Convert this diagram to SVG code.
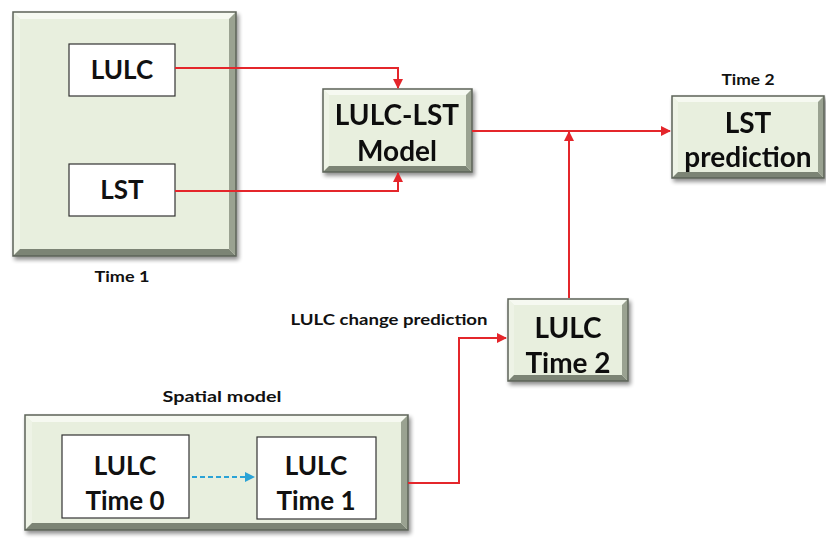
<svg xmlns="http://www.w3.org/2000/svg" width="826" height="540" viewBox="0 0 826 540">
  <defs>
    <style>
      .face { fill: #e8efde; }
      .bt { fill: #f6f9f1; }
      .bl { fill: #eef3e6; }
      .bb { fill: #7c8474; }
      .br { fill: #9aa291; }
      .edge { fill: none; stroke: #5d6358; stroke-width: 1.5; }
      .inner { fill: #ffffff; stroke: #333333; stroke-width: 1.2; }
      .big { font-family: Lato, "Noto Sans", sans-serif; font-weight: bold; font-size: 26px; fill: #111; text-anchor: middle; }
      .mid { font-family: Lato, "Noto Sans", sans-serif; font-weight: bold; font-size: 28px; fill: #111; text-anchor: middle; }
      .lbl { font-family: Lato, "Noto Sans", sans-serif; font-weight: bold; font-size: 15px; fill: #111; text-anchor: middle; }
      .red { fill: none; stroke: #e4262b; stroke-width: 2; }
      .blue { fill: none; stroke: #2aa3d6; stroke-width: 2; stroke-dasharray: 5 3; }
    </style>
    <filter id="shadow" x="-10%" y="-10%" width="125%" height="125%">
      <feGaussianBlur in="SourceAlpha" stdDeviation="2"/>
      <feOffset dx="2" dy="3"/>
      <feComponentTransfer><feFuncA type="linear" slope="0.45"/></feComponentTransfer>
      <feMerge><feMergeNode/><feMergeNode in="SourceGraphic"/></feMerge>
    </filter>
    <marker id="ar" viewBox="0 0 10 10" refX="9" refY="5" markerWidth="5" markerHeight="5" orient="auto">
      <path d="M0 0 L10 5 L0 10 Z" fill="#e4262b"/>
    </marker>
    <marker id="ab" viewBox="0 0 10 10" refX="9" refY="5" markerWidth="5" markerHeight="5" orient="auto">
      <path d="M0 0 L10 5 L0 10 Z" fill="#2aa3d6"/>
    </marker>
  </defs>

  <!-- Time 1 panel -->
  <g id="time1-panel" filter="url(#shadow)">
    <rect class="face" x="13" y="12" width="223" height="244"/>
    <path class="bt" d="M13 12 H236 L229 19 H20 Z"/>
    <path class="bl" d="M13 12 L20 19 V249 L13 256 Z"/>
    <path class="bb" d="M13 256 H236 L229 249 H20 Z"/>
    <path class="br" d="M236 12 V256 L229 249 V19 Z"/>
    <rect class="edge" x="13" y="12" width="223" height="244"/>
  </g>
  <g id="lulc-t1">
    <rect class="inner" x="69" y="44" width="106" height="52"/>
    <text class="big" x="122" y="79">LULC</text>
  </g>
  <g id="lst-t1">
    <rect class="inner" x="69" y="164" width="106" height="52"/>
    <text class="big" x="122" y="199">LST</text>
  </g>
  <text class="lbl" x="122" y="282" textLength="55" lengthAdjust="spacingAndGlyphs">Time 1</text>

  <!-- LULC-LST model -->
  <g id="model" filter="url(#shadow)">
    <rect class="face" x="323" y="89" width="149" height="83"/>
    <path class="bt" d="M323 89 H472 L466 95 H329 Z"/>
    <path class="bl" d="M323 89 L329 95 V166 L323 172 Z"/>
    <path class="bb" d="M323 172 H472 L466 166 H329 Z"/>
    <path class="br" d="M472 89 V172 L466 166 V95 Z"/>
    <rect class="edge" x="323" y="89" width="149" height="83"/>
    <text class="mid" x="397" y="125">LULC-LST</text>
    <text class="mid" x="397" y="161">Model</text>
  </g>

  <!-- LST prediction -->
  <text class="lbl" x="748" y="85" textLength="53" lengthAdjust="spacingAndGlyphs">Time 2</text>
  <g id="lst-prediction" filter="url(#shadow)">
    <rect class="face" x="672" y="96" width="152" height="82"/>
    <path class="bt" d="M672 96 H824 L818 102 H678 Z"/>
    <path class="bl" d="M672 96 L678 102 V172 L672 178 Z"/>
    <path class="bb" d="M672 178 H824 L818 172 H678 Z"/>
    <path class="br" d="M824 96 V178 L818 172 V102 Z"/>
    <rect class="edge" x="672" y="96" width="152" height="82"/>
    <text class="mid" x="748" y="133">LST</text>
    <text class="mid" x="748" y="167">prediction</text>
  </g>

  <!-- LULC Time 2 -->
  <text class="lbl" x="389" y="325" textLength="197" lengthAdjust="spacingAndGlyphs">LULC change prediction</text>
  <g id="lulc-t2" filter="url(#shadow)">
    <rect class="face" x="508" y="299" width="120" height="82"/>
    <path class="bt" d="M508 299 H628 L622 305 H514 Z"/>
    <path class="bl" d="M508 299 L514 305 V375 L508 381 Z"/>
    <path class="bb" d="M508 381 H628 L622 375 H514 Z"/>
    <path class="br" d="M628 299 V381 L622 375 V305 Z"/>
    <rect class="edge" x="508" y="299" width="120" height="82"/>
    <text class="mid" x="568" y="338">LULC</text>
    <text class="mid" x="568" y="373">Time 2</text>
  </g>

  <!-- Spatial model panel -->
  <text class="lbl" x="222" y="402" textLength="119" lengthAdjust="spacingAndGlyphs">Spatial model</text>
  <g id="spatial-panel" filter="url(#shadow)">
    <rect class="face" x="25" y="415" width="383" height="115"/>
    <path class="bt" d="M25 415 H408 L401 422 H32 Z"/>
    <path class="bl" d="M25 415 L32 422 V523 L25 530 Z"/>
    <path class="bb" d="M25 530 H408 L401 523 H32 Z"/>
    <path class="br" d="M408 415 V530 L401 523 V422 Z"/>
    <rect class="edge" x="25" y="415" width="383" height="115"/>
  </g>
  <g id="lulc-t0">
    <rect class="inner" x="62" y="435" width="127" height="83"/>
    <text class="big" x="125" y="475">LULC</text>
    <text class="big" x="125" y="510">Time 0</text>
  </g>
  <g id="lulc-t1b">
    <rect class="inner" x="257" y="437" width="119" height="82"/>
    <text class="big" x="316" y="475">LULC</text>
    <text class="big" x="316" y="510">Time 1</text>
  </g>

  <!-- connectors -->
  <g id="connectors">
    <path class="red" d="M175 68 H398 V88" marker-end="url(#ar)"/>
    <path class="red" d="M175 191 H398 V173" marker-end="url(#ar)"/>
    <path class="red" d="M472 131 H670" marker-end="url(#ar)"/>
    <path class="red" d="M569 298 V132" marker-end="url(#ar)"/>
    <path class="red" d="M408 483 H459 V338 H506" marker-end="url(#ar)"/>
    <path class="blue" d="M192 477 H254" marker-end="url(#ab)"/>
  </g>
</svg>
